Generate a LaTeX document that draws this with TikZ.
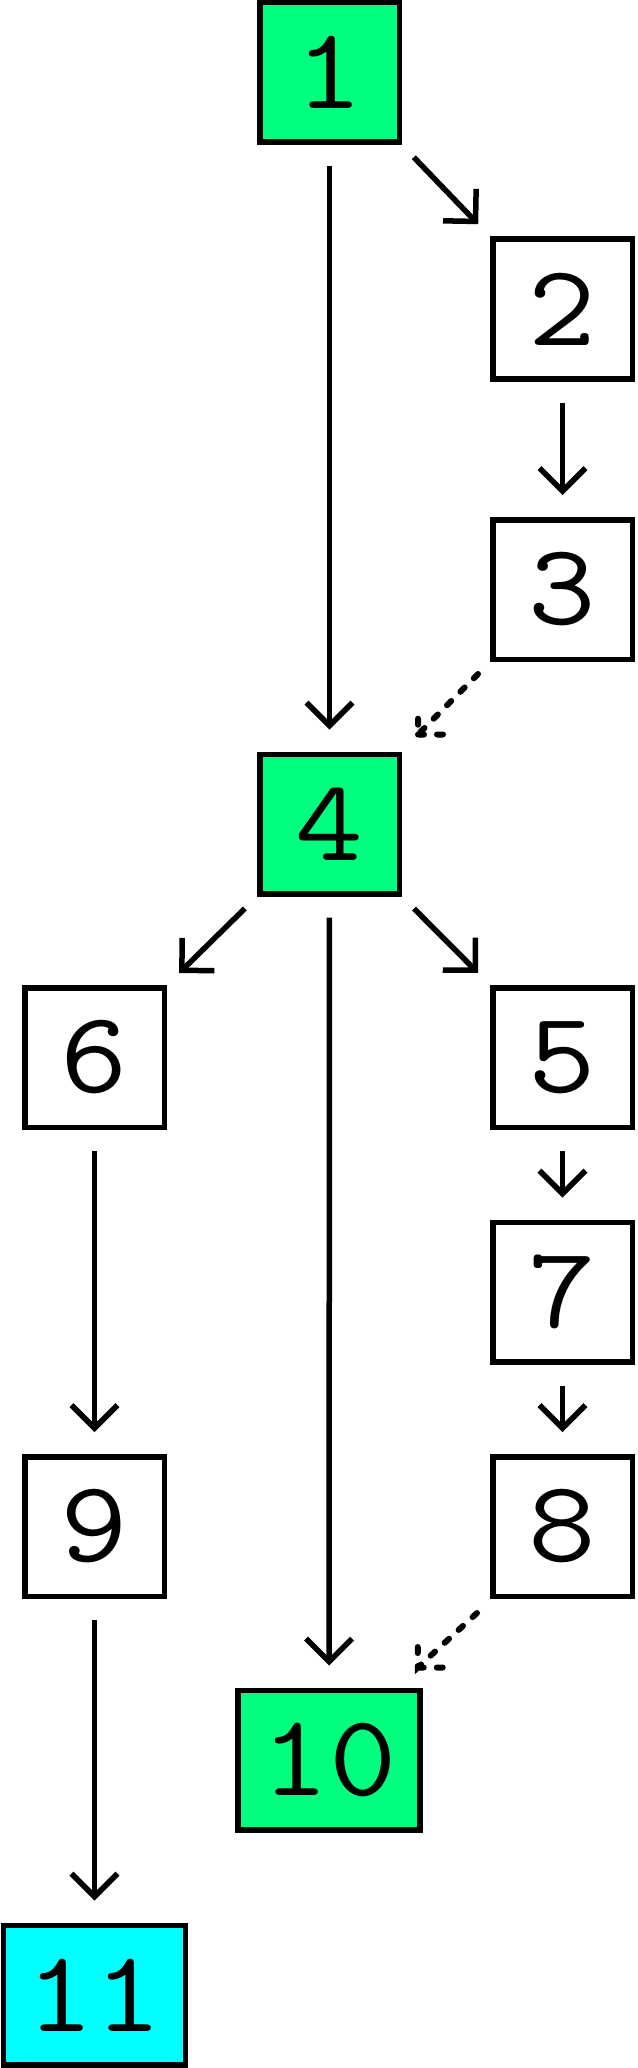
\documentclass[tikz,border=0pt]{standalone}
\usepackage{fontspec}
\usepackage[]{xcolor}
\newfontfamily\statefont[FakeStretch=1.13]{Latin Modern Mono}
\usetikzlibrary{arrows.meta, positioning}
\definecolor{springgreen}{RGB}{0,255,127}
\definecolor{leafcyan}{RGB}{0,255,255}
\tikzset{
		box state/.style={draw, line width=5.5pt, inner sep=0pt,
			minimum width=139.5pt, minimum height=139.5pt,
			font=\fontsize{116}{116}\statefont},
		wide state/.style={box state, minimum width=182pt},
		green state/.style={fill=springgreen},
		cyan state/.style={fill=leafcyan},
		slant/.style={shorten <=17pt, shorten >=17pt},
		dashed edge/.style={line width=6pt, line cap=round, dash pattern=on 6pt off 13pt}
	}

\begin{document}
\begin{tikzpicture}[>={Straight Barb[length=23pt, width=46pt]}, line width=5.5pt, on grid,
		every edge/.append style={shorten <=21pt, shorten >=22pt}]
				\useasboundingbox (0,0) rectangle (637pt,-2068pt);
				\node[box state, green state] (n1) at (329.5pt,-72.5pt) {1};
				\node[box state]              (n2) [below right=236.5pt and 233pt of n1] {2};
				\node[box state]              (n3) [below=280.5pt of n2] {3};
				\node[box state, green state] (n4) [below left=234.5pt and 233pt of n3] {4};
				\node[box state]              (n6) [below left=233.5pt and 235pt of n4] {6};
				\node[box state]              (n5) [below right=233.5pt and 233pt of n4] {5};
				\node[box state]              (n7) [below=234.5pt of n5] {7};
				\node[box state]              (n8) [below=234.5pt of n7] {8};
				\node[box state]              (n9) at (n6 |- n8) {9};
				\node[wide state, green state] (n10) [below left=233.5pt and 233.5pt of n8] {10};
				\node[wide state, cyan state]  (n11) [below=468.5pt of n9] {11};
				\path[->] (n1) edge (n4);
				\path[->] (n1.south east) edge[slant] (n2.north west);
				\path[->] (n2) edge (n3);
				\path[->] (n4.south west) edge[slant] (n6.north east);
				\path[->] (n4) edge (n10);
				\path[->] (n4.south east) edge[slant] (n5.north west);
				\path[->] (n5) edge (n7);
				\path[->] (n7) edge (n8);
				\path[->] (n6) edge (n9);
				\path[->] (n9) edge (n11);
				% dashed arrows, the head is dashed as well
				\draw[dashed edge] ([shift={(-12pt,-12pt)}]n3.south west) -- ([shift={(16pt,17pt)}]n4.north east) coordinate (h4)
					-- ++(0,28pt) (h4) -- ++(28pt,0);
				\draw[dashed edge] ([shift={(-13pt,-14pt)}]n8.south west) -- ([shift={(-5pt,20pt)}]n10.north east) coordinate (h10)
					-- ++(0,28pt) (h10) -- ++(28pt,0);
			\end{tikzpicture}
\end{document}
